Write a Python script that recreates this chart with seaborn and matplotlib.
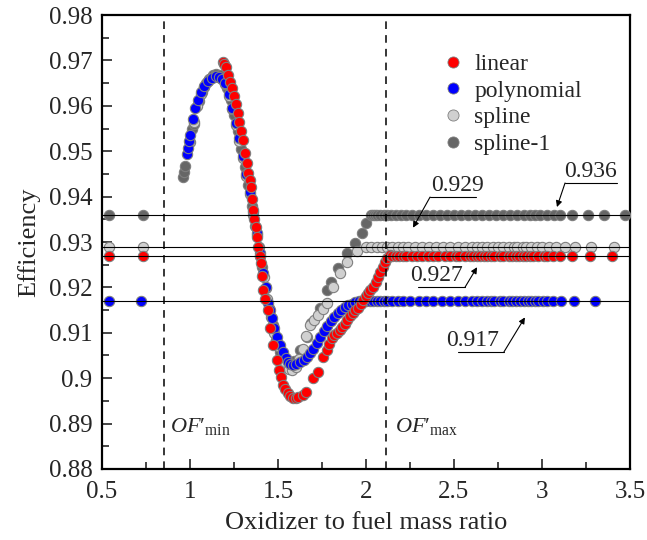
import matplotlib
matplotlib.use("Agg")
import matplotlib.pyplot as plt
from matplotlib.ticker import MultipleLocator, FuncFormatter
from matplotlib.lines import Line2D
import seaborn as sns
import pandas as pd

# ---------------- data ----------------
linear_x = [0.54, 0.73,
            1.188, 1.195, 1.205, 1.216, 1.228, 1.239, 1.250, 1.261, 1.270, 1.278, 1.290, 1.301,
            1.313, 1.322, 1.330, 1.340, 1.347, 1.353, 1.358, 1.366, 1.375, 1.380, 1.386, 1.395,
            1.403, 1.409, 1.415, 1.428, 1.443, 1.455, 1.472, 1.494, 1.506, 1.518, 1.528, 1.540,
            1.557, 1.570, 1.585, 1.600, 1.614, 1.640, 1.659,
            1.699, 1.727, 1.756, 1.778, 1.790, 1.807, 1.820, 1.835, 1.850, 1.864, 1.878, 1.892,
            1.910, 1.926, 1.940, 1.955, 1.970, 1.983, 2.000, 2.011, 2.025, 2.040, 2.055, 2.068,
            2.082, 2.097, 2.108, 2.119, 2.136,
            2.15, 2.17, 2.19, 2.21, 2.23, 2.26, 2.29, 2.32, 2.35, 2.38, 2.41, 2.45, 2.48, 2.51,
            2.53, 2.56, 2.59, 2.61, 2.63, 2.65, 2.67, 2.69, 2.71, 2.73, 2.76, 2.78, 2.81, 2.83,
            2.85, 2.87, 2.89, 2.91, 2.93, 2.95, 2.98, 3.01, 3.03, 3.06, 3.10, 3.17, 3.27, 3.40]
linear_y = [0.927, 0.927,
            0.9697, 0.9692, 0.9685, 0.9668, 0.9652, 0.9640, 0.9622, 0.9604, 0.9585, 0.9564, 0.9545, 0.9525,
            0.9496, 0.9475, 0.9452, 0.9437, 0.9421, 0.9395, 0.9370, 0.9350, 0.9333, 0.9310, 0.9289, 0.9270,
            0.9254, 0.9225, 0.9194, 0.9175, 0.9150, 0.9111, 0.9073, 0.9040, 0.9018, 0.9003, 0.8985, 0.8976,
            0.8967, 0.8960, 0.8956, 0.8956, 0.8959, 0.8962, 0.8970,
            0.9000, 0.9014, 0.9047, 0.9062, 0.9075, 0.9089, 0.9095, 0.9100, 0.9106, 0.9113, 0.9120, 0.9128,
            0.9136, 0.9144, 0.9150, 0.9155, 0.9163, 0.9172, 0.9180, 0.9188, 0.9195, 0.9201, 0.9212, 0.9223,
            0.9235, 0.9245, 0.9255, 0.9265, 0.9271,
            0.927, 0.927, 0.927, 0.927, 0.927, 0.927, 0.927, 0.927, 0.927, 0.927, 0.927, 0.927, 0.927, 0.927,
            0.927, 0.927, 0.927, 0.927, 0.927, 0.927, 0.927, 0.927, 0.927, 0.927, 0.927, 0.927, 0.927, 0.927,
            0.927, 0.927, 0.927, 0.927, 0.927, 0.927, 0.927, 0.927, 0.927, 0.927, 0.927, 0.927, 0.927, 0.927]

poly_x = [0.54, 0.72,
          0.983, 0.988, 0.995, 1.000, 1.017, 1.030, 1.045, 1.062, 1.080, 1.100, 1.125, 1.150, 1.165,
          1.180, 1.200, 1.220, 1.240, 1.260, 1.280, 1.300, 1.320, 1.340, 1.360, 1.380, 1.400, 1.415,
          1.430, 1.443, 1.455, 1.466, 1.480, 1.494, 1.510, 1.528, 1.543, 1.557, 1.570, 1.585, 1.605,
          1.625, 1.645, 1.665, 1.683, 1.700, 1.720, 1.740, 1.760, 1.780, 1.800, 1.820, 1.840, 1.860,
          1.880, 1.900, 1.920, 1.940, 1.960,
          1.98, 2.00, 2.02, 2.04, 2.06, 2.08, 2.10, 2.12, 2.15, 2.18, 2.21, 2.25, 2.30, 2.34, 2.38,
          2.43, 2.48, 2.52, 2.56, 2.60, 2.63, 2.66, 2.69, 2.71, 2.73, 2.76, 2.78, 2.81, 2.83, 2.85,
          2.875, 2.90, 2.92, 2.94, 2.96, 2.98, 3.006, 3.03, 3.06, 3.11, 3.18, 3.30]
poly_y = [0.917, 0.917,
          0.9494, 0.9507, 0.9522, 0.9535, 0.9570, 0.9595, 0.9612, 0.9630, 0.9643, 0.9655, 0.9662, 0.9665, 0.9664,
          0.9660, 0.9650, 0.9625, 0.9595, 0.9562, 0.9528, 0.9490, 0.9450, 0.9410, 0.9365, 0.9320, 0.9275, 0.9232,
          0.9200, 0.9165, 0.9150, 0.9133, 0.9110, 0.9091, 0.9073, 0.9058, 0.9045, 0.9036, 0.9031, 0.9029, 0.9031,
          0.9035, 0.9040, 0.9047, 0.9056, 0.9065, 0.9078, 0.9090, 0.9103, 0.9115, 0.9125, 0.9135, 0.9143, 0.9150,
          0.9156, 0.9161, 0.9164, 0.9167, 0.9169,
          0.917, 0.917, 0.917, 0.917, 0.917, 0.917, 0.917, 0.917, 0.917, 0.917, 0.917, 0.917, 0.917, 0.917, 0.917,
          0.917, 0.917, 0.917, 0.917, 0.917, 0.917, 0.917, 0.917, 0.917, 0.917, 0.917, 0.917, 0.917, 0.917, 0.917,
          0.917, 0.917, 0.917, 0.917, 0.917, 0.917, 0.917, 0.917, 0.917, 0.917, 0.917, 0.917]

spline_x = [0.54, 0.73,
            1.000, 1.020, 1.040, 1.060, 1.080, 1.100, 1.120, 1.140, 1.160, 1.180, 1.200, 1.220, 1.240,
            1.260, 1.280, 1.300, 1.320, 1.340, 1.360, 1.380, 1.400, 1.420, 1.440, 1.460, 1.480, 1.500,
            1.520, 1.540, 1.560, 1.580, 1.600, 1.620, 1.640, 1.660, 1.680, 1.705, 1.730, 1.755, 1.780,
            1.810, 1.850, 1.890, 1.950,
            2.00, 2.03, 2.06, 2.09, 2.12, 2.15, 2.18, 2.21, 2.24, 2.28, 2.32, 2.36, 2.40, 2.44, 2.48,
            2.52, 2.56, 2.60, 2.63, 2.66, 2.69, 2.72, 2.75, 2.78, 2.81, 2.84, 2.86, 2.89, 2.91, 2.94,
            2.97, 3.00, 3.04, 3.08, 3.13, 3.19, 3.28, 3.41]
spline_y = [0.929, 0.929,
            0.9520, 0.9565, 0.9600, 0.9625, 0.9642, 0.9655, 0.9662, 0.9665, 0.9664, 0.9658, 0.9648, 0.9622, 0.9592,
            0.9558, 0.9522, 0.9485, 0.9445, 0.9405, 0.9360, 0.9315, 0.9270, 0.9222, 0.9175, 0.9135, 0.9100, 0.9070,
            0.9045, 0.9028, 0.9020, 0.9018, 0.9025, 0.9042, 0.9065, 0.9092, 0.9117, 0.9128, 0.9140, 0.9152, 0.9166,
            0.9200, 0.9232, 0.9256, 0.9280,
            0.929, 0.929, 0.929, 0.929, 0.929, 0.929, 0.929, 0.929, 0.929, 0.929, 0.929, 0.929, 0.929, 0.929, 0.929,
            0.929, 0.929, 0.929, 0.929, 0.929, 0.929, 0.929, 0.929, 0.929, 0.929, 0.929, 0.929, 0.929, 0.929, 0.929,
            0.929, 0.929, 0.929, 0.929, 0.929, 0.929, 0.929, 0.929]

spline1_x = [0.54, 0.73,
             0.960, 0.966, 0.972, 1.010, 1.020, 1.050, 1.070, 1.090, 1.110, 1.130, 1.150, 1.170, 1.190,
             1.210, 1.230, 1.250, 1.270, 1.290, 1.310, 1.330, 1.350, 1.370, 1.390, 1.410, 1.430, 1.450,
             1.470, 1.490, 1.510, 1.530, 1.550, 1.570, 1.590, 1.625, 1.665, 1.690, 1.740, 1.780, 1.800,
             1.840, 1.890, 1.940, 1.980, 2.000,
             2.03, 2.04, 2.05, 2.06, 2.08, 2.10, 2.12, 2.14, 2.17, 2.20, 2.23, 2.26, 2.30, 2.34, 2.38,
             2.42, 2.46, 2.50, 2.54, 2.58, 2.62, 2.66, 2.70, 2.74, 2.78, 2.82, 2.86, 2.90, 2.93, 2.96,
             2.99, 3.03, 3.07, 3.10, 3.17, 3.26, 3.35, 3.47]
spline1_y = [0.936, 0.936,
             0.9443, 0.9455, 0.9468, 0.9550, 0.9560, 0.9610, 0.9630, 0.9650, 0.9660, 0.9667, 0.9670, 0.9668, 0.9660,
             0.9640, 0.9612, 0.9580, 0.9545, 0.9505, 0.9465, 0.9425, 0.9380, 0.9335, 0.9290, 0.9245, 0.9198, 0.9155,
             0.9118, 0.9085, 0.9058, 0.9040, 0.9030, 0.9030, 0.9038, 0.9062, 0.9091, 0.9122, 0.9155, 0.9195, 0.9212,
             0.9243, 0.9276, 0.9298, 0.9320, 0.9342,
             0.936, 0.936, 0.936, 0.936, 0.936, 0.936, 0.936, 0.936, 0.936, 0.936, 0.936, 0.936, 0.936, 0.936, 0.936,
             0.936, 0.936, 0.936, 0.936, 0.936, 0.936, 0.936, 0.936, 0.936, 0.936, 0.936, 0.936, 0.936, 0.936, 0.936,
             0.936, 0.936, 0.936, 0.936, 0.936, 0.936, 0.936, 0.936]

series_names = ["linear", "polynomial", "spline", "spline-1"]
series_colors = {"linear": "#ff0000", "polynomial": "#0000ff",
                 "spline": "#d0d0d0", "spline-1": "#666666"}
levels = [0.936, 0.929, 0.927, 0.917]
level_labels = ["0.936", "0.929", "0.927", "0.917"]
of_min, of_max = 0.852, 2.114

# ---------------- styling ----------------
sns.set_style("ticks")
plt.rcParams["font.family"] = ["Liberation Serif", "DejaVu Serif"]
plt.rcParams["mathtext.fontset"] = "custom"
plt.rcParams["mathtext.rm"] = "Liberation Serif"
plt.rcParams["mathtext.it"] = "Liberation Serif:italic"

fig = plt.figure(figsize=(6.47, 5.40), dpi=100)
ax = fig.add_axes([0.1577, 0.1315, 0.816, 0.8407])

frames = {
    "linear": pd.DataFrame({"x": linear_x, "y": linear_y}),
    "polynomial": pd.DataFrame({"x": poly_x, "y": poly_y}),
    "spline": pd.DataFrame({"x": spline_x, "y": spline_y}),
    "spline-1": pd.DataFrame({"x": spline1_x, "y": spline1_y}),
}

for name in ["spline-1", "spline", "polynomial", "linear"]:
    sns.scatterplot(data=frames[name], x="x", y="y", ax=ax, color=series_colors[name],
                    s=55, edgecolor="#7f7f7f", linewidth=0.8, zorder=3, legend=False)

for lv in levels:
    ax.axhline(lv, color="black", lw=0.8, zorder=4)
for v in (of_min, of_max):
    ax.axvline(v, color="black", lw=1.1, ls=(0, (5, 4)), zorder=4)

ax.set_xlim(0.5, 3.5)
ax.set_ylim(0.88, 0.98)
ax.xaxis.set_major_locator(MultipleLocator(0.5))
ax.xaxis.set_minor_locator(MultipleLocator(0.25))
ax.yaxis.set_major_locator(MultipleLocator(0.01))
ax.yaxis.set_minor_locator(MultipleLocator(0.005))
fmt = FuncFormatter(lambda v, p: f"{v:.3g}")
ax.xaxis.set_major_formatter(fmt)
ax.yaxis.set_major_formatter(fmt)
ax.tick_params(which="both", direction="in", top=False, right=False, labelsize=18, width=1.2)
ax.tick_params(which="major", length=7)
ax.tick_params(which="minor", length=5)
ax.tick_params(axis="x", which="major", pad=9)
ax.tick_params(axis="y", which="major", pad=7)
for sp in ax.spines.values():
    sp.set_visible(True)
    sp.set_linewidth(1.6)
    sp.set_color("black")

ax.set_xlabel("Oxidizer to fuel mass ratio", fontsize=19, labelpad=6)
ax.set_ylabel("Efficiency", fontsize=19, labelpad=6)

ax.text(0.886, 0.8882, r"$\mathit{OF′}_{\mathrm{min}}$", fontsize=16, ha="left", va="baseline")
ax.text(2.165, 0.8882, r"$\mathit{OF′}_{\mathrm{max}}$", fontsize=16, ha="left", va="baseline")

# annotations: (label, text centre x, underline x0, x1, y, arrow start x, arrow tip x, y)
ann = [
    ("0.929", 2.519, 2.364, 2.625, 0.9399, 2.364, 2.267, 0.93315),
    ("0.936", 3.278, 3.131, 3.426, 0.9430, 3.131, 3.085, 0.9377),
    ("0.927", 2.398, 2.295, 2.562, 0.9200, 2.562, 2.631, 0.92445),
    ("0.917", 2.605, 2.523, 2.784, 0.9058, 2.784, 2.903, 0.91339),
]
for lab, xc, x0, x1, yu, xs, xt, yt in ann:
    ax.plot([x0, x1], [yu, yu], color="black", lw=0.8, zorder=5)
    ax.annotate("", xy=(xt, yt), xytext=(xs, yu),
                arrowprops=dict(arrowstyle="-|>", color="black", lw=0.8, mutation_scale=9,
                                shrinkA=0, shrinkB=0), zorder=5)
    ax.text(xc, yu + 0.0002, lab, fontsize=17, ha="center", va="bottom", zorder=5)

handles = [Line2D([], [], ls="", marker="o", markersize=8, markerfacecolor=series_colors[n],
                  markeredgecolor="#7f7f7f", markeredgewidth=0.6, label=n) for n in series_names]
ax.legend(handles=handles, loc="upper left", bbox_to_anchor=(0.607, 0.952), frameon=False,
          fontsize=17, handletextpad=0.3, labelspacing=0.22, borderpad=0.2, handlelength=1.2)

fig.savefig("out.png", dpi=100)
